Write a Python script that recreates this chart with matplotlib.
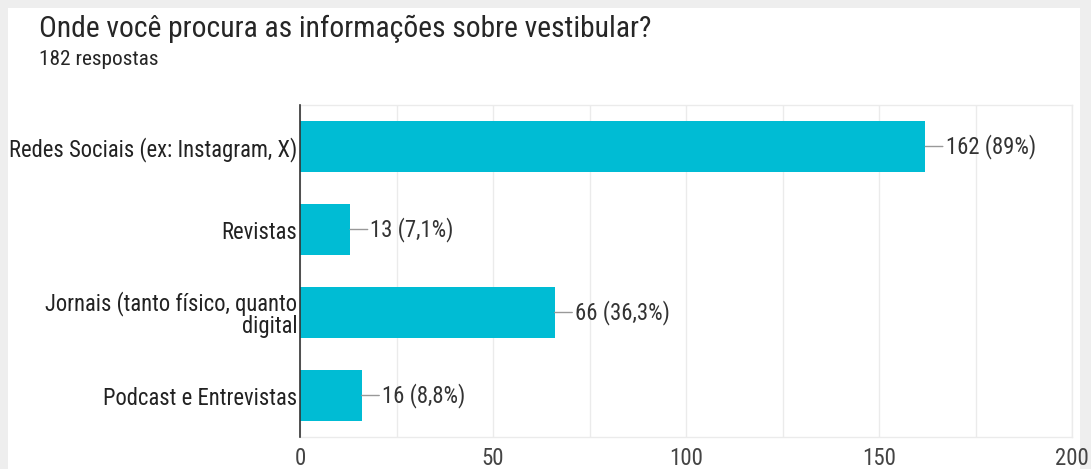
import matplotlib
matplotlib.use("Agg")
import matplotlib.pyplot as plt
from matplotlib.ticker import MultipleLocator
from matplotlib.patches import Rectangle
from matplotlib import font_manager

title = "Onde você procura as informações sobre vestibular?"
subtitle = "182 respostas"
categories = ["Redes Sociais (ex: Instagram, X)", "Revistas",
              "Jornais (tanto físico, quanto\ndigital", "Podcast e Entrevistas"]
values = [162, 13, 66, 16]
value_labels = ["162 (89%)", "13 (7,1%)", "66 (36,3%)", "16 (8,8%)"]
xticks = [0, 50, 100, 150, 200]


def has_font(name):
    try:
        path = font_manager.findfont(font_manager.FontProperties(family=name),
                                     fallback_to_default=False)
        return name.split()[0].lower() in path.lower()
    except Exception:
        return False


if has_font("Roboto Condensed"):
    FONT = ["Roboto Condensed", "DejaVu Sans"]
    sz_title, sz_sub, sz_lab, sz_val, sz_tick = 21.3, 15.3, 16.3, 16.4, 16.5
else:
    FONT = ["Liberation Sans", "DejaVu Sans"]
    sz_title, sz_sub, sz_lab, sz_val, sz_tick = 18.7, 13.4, 14.1, 14.1, 14.5
plt.rcParams["font.family"] = FONT

W, H = 1091, 469
fig = plt.figure(figsize=(W / 100, H / 100), dpi=100)
fig.patch.set_facecolor("#eeeeee")
# white card
fig.patches.append(Rectangle((8 / W, 0), (1080 - 8) / W, 1 - 8 / H,
                             transform=fig.transFigure, facecolor="white",
                             edgecolor="none", zorder=-5))

ax = fig.add_axes([300 / W, 1 - 437 / H, 772 / W, (437 - 105) / H])
ax.set_facecolor("white")
ax.set_zorder(2)

ypos = list(range(len(categories)))
ax.barh(ypos, values, height=0.62, color="#00BCD4", zorder=3)
ax.set_ylim(len(categories) - 0.5, -0.5)
ax.set_xlim(0, 200)
ax.set_yticks(ypos)
ax.set_yticklabels(categories, fontsize=sz_lab, color="#222222", linespacing=0.95)
ax.set_xticks(xticks)
ax.set_xticklabels([str(t) for t in xticks], fontsize=sz_tick, color="#444444")
ax.xaxis.set_minor_locator(MultipleLocator(25))
ax.grid(axis="x", which="both", color="#ebebeb", linewidth=1, zorder=0)
ax.tick_params(axis="both", which="both", length=0)
ax.tick_params(axis="y", pad=2)
ax.tick_params(axis="x", pad=7)
for s in ["top", "bottom", "right"]:
    ax.spines[s].set_color("#ebebeb")
    ax.spines[s].set_linewidth(1)
ax.spines["left"].set_color("#333333")
ax.spines["left"].set_linewidth(1.2)
ax.spines["left"].set_zorder(4)

for i, (v, lab) in enumerate(zip(values, value_labels)):
    ax.annotate(lab, xy=(v, i), xytext=(14.6, 0), textcoords="offset points",
                va="center", ha="left", fontsize=sz_val, color="#333333",
                arrowprops=dict(arrowstyle="-", color="#999999", lw=1,
                                shrinkA=0, shrinkB=0))

fig.text(39 / W, 1 - 37 / H, title, fontsize=sz_title, color="#262626",
         va="baseline", ha="left", zorder=3)
fig.text(39 / W, 1 - 65 / H, subtitle, fontsize=sz_sub, color="#262626",
         va="baseline", ha="left", zorder=3)

fig.savefig("out.png", dpi=100, facecolor=fig.get_facecolor())
